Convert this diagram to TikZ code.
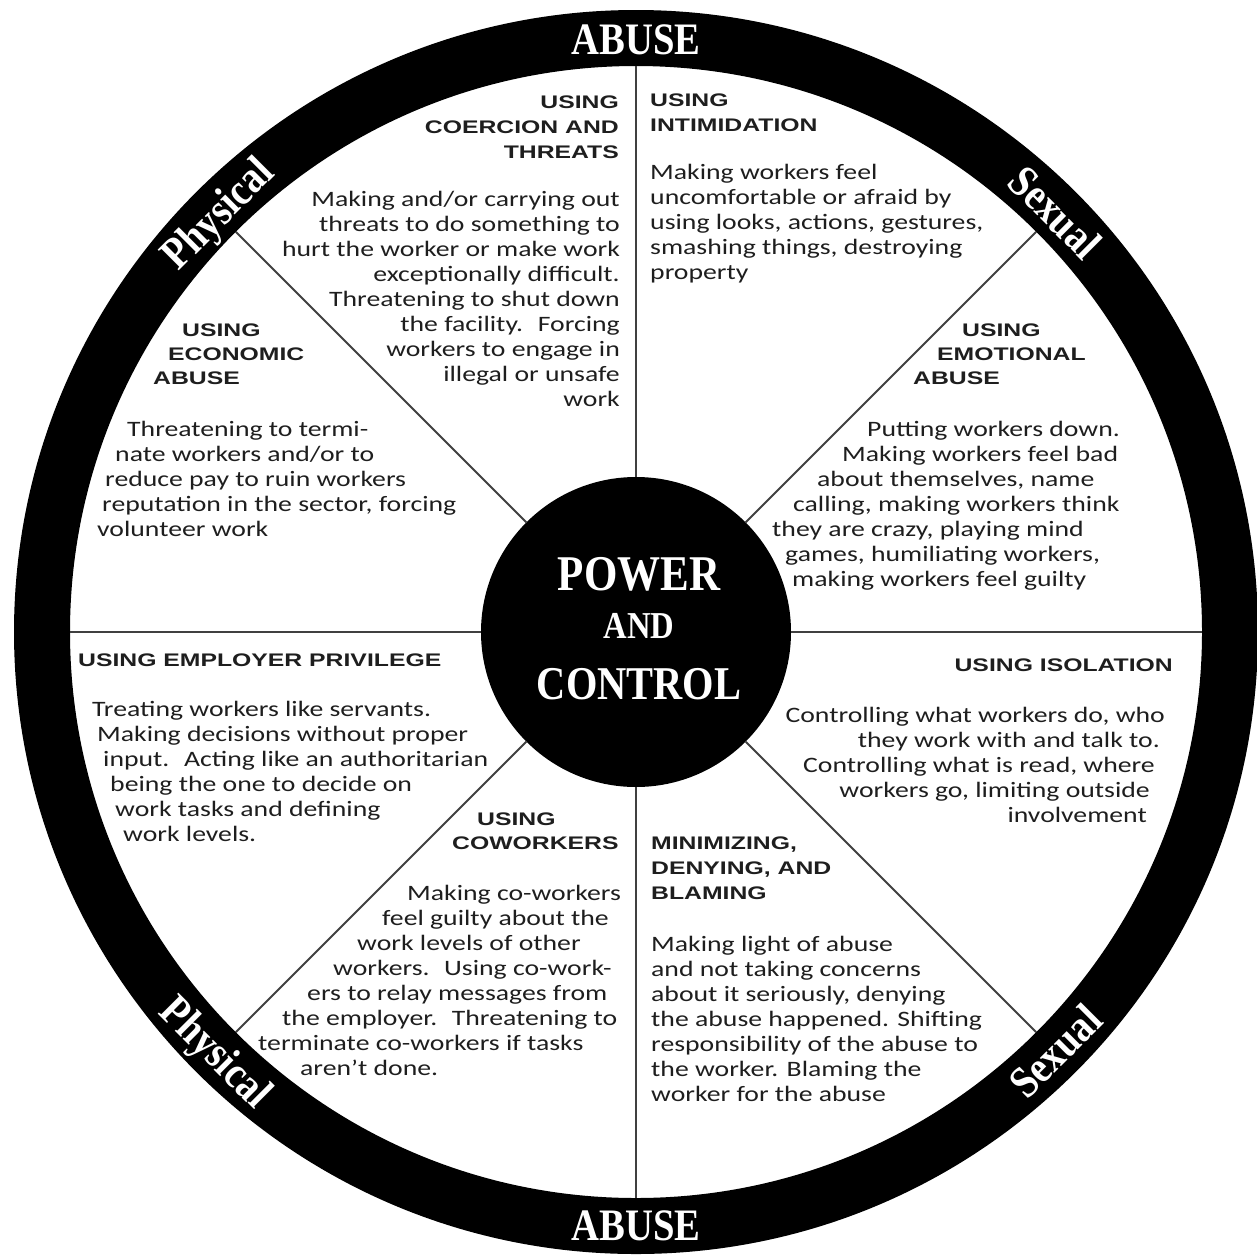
\documentclass[tikz,border=0pt]{standalone}
\usepackage{fontspec}
\usetikzlibrary{calc}
\newfontfamily\bodyfont{Carlito}[FakeStretch=1.26]
\newfontfamily\headfont{Liberation Sans}[FakeStretch=1.36]
\newfontfamily\wheelfont{Liberation Serif}[FakeStretch=0.86]
\definecolor{ink}{HTML}{1E1E1E}
\definecolor{spokegray}{HTML}{404040}
\tikzset{
  bodytxt/.style={inner sep=0, text=ink, font=\bodyfont\fontsize{22}{25}\selectfont},
  headtxt/.style={inner sep=0, text=ink, font=\headfont\bfseries\fontsize{18.2}{25}\selectfont},
  hubtxt/.style={inner sep=0, anchor=base, text=white},
  ringtxt/.style={inner sep=0, text height=30, text depth=0, anchor=center, text=white,
    font=\wheelfont\bfseries\fontsize{45}{45}\selectfont},
}
\begin{document}
\begin{tikzpicture}[x=1pt,y=1pt]
  \useasboundingbox (0,0) rectangle (1257,-1256);
  %Rad
  \coordinate (ctr) at (636,-632);
  \fill[even odd rule] (ctr) circle[radius=622] (ctr) circle[radius=566];
  \node[circle, fill=black, minimum size=310, inner sep=0] (hub) at (ctr) {};
  \foreach \a in {0,45,...,315}
    \draw[spokegray, line width=2] (hub.\a) -- ($(ctr)+(\a:566)$);

  %Ringbeschriftung
  \node[ringtxt] (abuseT) at ($(ctr)+(90:593)$) {ABUSE};
  \node[ringtxt, rotate=45] (physT) at ($(ctr)+(135:593)$) {Physical};
  \node[ringtxt, rotate=-45] (sexT) at ($(ctr)+(45:593)$) {Sexual};
  \node[ringtxt, rotate=-45] (physB) at ($(ctr)+(225:593)$) {Physical};
  \node[ringtxt] (abuseB) at ($(ctr)+(270:593)$) {ABUSE};
  \node[ringtxt, rotate=45] (sexB) at ($(ctr)+(315:593)$) {Sexual};

  %Mitte
  \node[hubtxt, font=\wheelfont\bfseries\fontsize{50}{50}\selectfont] (pow) at (639,-590) {POWER};
  \node[hubtxt, font=\wheelfont\bfseries\fontsize{38}{38}\selectfont] (and) at (639,-638.5) {AND};
  \node[hubtxt, font=\wheelfont\bfseries\fontsize{47}{47}\selectfont] (ctl) at (639,-699.5) {CONTROL};

  %Zwang und Drohungen
  \foreach \row [count=\i] in {USING, {COERCION AND}, THREATS}
    \node[headtxt, anchor=base east] (coerH\i) at (619,{-83-25*\i}) {\row};
  \foreach \row [count=\i] in {{Making and/or carrying out}, {threats to do something to},
      {hurt the worker or make work}, {exceptionally difficult.}, {Threatening to shut down},
      {the facility.~ Forcing}, {workers to engage in}, {illegal or unsafe}, work}
    \node[bodytxt, anchor=base east] (coerB\i) at (620,{-181-25*\i}) {\row};

  %Einschuechterung
  \foreach \row [count=\i] in {USING, INTIMIDATION}
    \node[headtxt, anchor=base west] (intiH\i) at (650,{-81-25*\i}) {\row};
  \foreach \row [count=\i] in {{Making workers feel}, {uncomfortable or afraid by},
      {using looks, actions, gestures,}, {smashing things, destroying}, property}
    \node[bodytxt, anchor=base west] (intiB\i) at (650,{-154-25*\i}) {\row};

  %Wirtschaftlicher Missbrauch
  \foreach \x/\row [count=\i] in {182/USING, 168/ECONOMIC, 153/ABUSE}
    \node[headtxt, anchor=base west] (econH\i) at (\x,{-312-24*\i}) {\row};
  \foreach \x/\row [count=\i] in {127/{Threatening to termi-}, 115/{nate workers and/or to},
      105/{reduce pay to ruin workers}, 102/{reputation in the sector, forcing},
      97/{volunteer work}}
    \node[bodytxt, anchor=base west] (econB\i) at (\x,{-411-25*\i}) {\row};

  %Emotionaler Missbrauch
  \foreach \x/\row [count=\i] in {962/USING, 937/EMOTIONAL, 913/ABUSE}
    \node[headtxt, anchor=base west] (emoH\i) at (\x,{-312-24*\i}) {\row};
  \foreach \x/\row [count=\i] in {867/{Putting workers down.}, 842/{Making workers feel bad},
      817/{about themselves, name}, 793/{calling, making workers think},
      772/{they are crazy, playing mind}, 785/{games, humiliating workers,},
      792/{making workers feel guilty}}
    \node[bodytxt, anchor=base west] (emoB\i) at (\x,{-411-25*\i}) {\row};

  %Arbeitgeberprivileg
  \node[headtxt, anchor=base west] (privH) at (78,-666) {USING EMPLOYER PRIVILEGE};
  \foreach \x/\row [count=\i] in {92/{Treating workers like servants.},
      97/{Making decisions without proper}, 103/{input.~ Acting like an authoritarian},
      110/{being the one to decide on}, 115/{work tasks and defining}, 123/{work levels.}}
    \node[bodytxt, anchor=base west] (privB\i) at (\x,{-691-25*\i}) {\row};

  %Isolation
  \node[headtxt, anchor=base east] (isoH) at (1173,-671) {USING ISOLATION};
  \foreach \x/\row [count=\i] in {1165/{Controlling what workers do, who},
      1160/{they work with and talk to.}, 1155/{Controlling what is read, where},
      1150/{workers go, limiting outside}, 1147/{involvement}}
    \node[bodytxt, anchor=base east] (isoB\i) at (\x,{-697-25*\i}) {\row};

  %Kollegen
  \foreach \x/\row [count=\i] in {477/USING, 452/COWORKERS}
    \node[headtxt, anchor=base west] (cowH\i) at (\x,{-801-24*\i}) {\row};
  \foreach \x/\row [count=\i] in {407/{Making co-workers}, 382/{feel guilty about the},
      357/{work levels of other}, 333/{workers.~ Using co-work-},
      307/{ers to relay messages from}, 282/{the employer.~ Threatening to},
      258/{terminate co-workers if tasks}, 300/{aren’t done.}}
    \node[bodytxt, anchor=base west] (cowB\i) at (\x,{-875-25*\i}) {\row};

  %Verharmlosen
  \foreach \row [count=\i] in {{MINIMIZING,}, {DENYING, AND}, BLAMING}
    \node[headtxt, anchor=base west] (minH\i) at (651,{-824-25*\i}) {\row};
  \foreach \row [count=\i] in {{Making light of abuse}, {and not taking concerns},
      {about it seriously, denying}, {the abuse happened. Shifting},
      {responsibility of the abuse to}, {the worker. Blaming the}, {worker for the abuse}}
    \node[bodytxt, anchor=base west] (minB\i) at (651,{-926-25*\i}) {\row};
\end{tikzpicture}
\end{document}
